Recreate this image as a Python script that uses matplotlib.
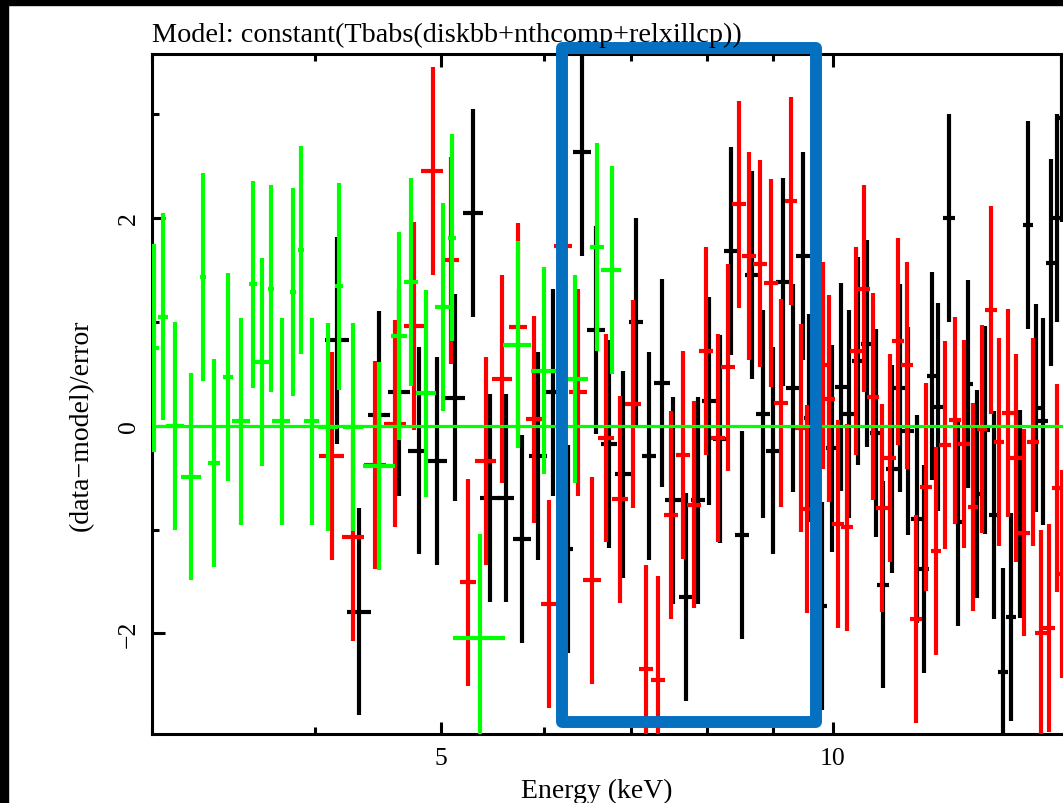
import numpy as np
import matplotlib
matplotlib.use('Agg')
import matplotlib.pyplot as plt
from matplotlib.patches import Rectangle
from matplotlib.ticker import FixedLocator, FixedFormatter, NullFormatter, MultipleLocator

plt.rcParams['font.family'] = ['Liberation Serif', 'DejaVu Serif']

# residuals in units of sigma, so every error bar is +-1
sigma = 1.0

# group 3 (green)
green_e = [3.011, 3.059, 3.123, 3.216, 3.283, 3.348, 3.432, 3.514, 3.584, 3.645,
           3.700, 3.772, 3.851, 3.904, 3.978, 4.094, 4.176, 4.281, 4.480, 4.644,
           4.742, 4.869, 5.015, 5.101, 5.357, 5.726, 5.999, 6.339, 6.587, 6.761]
green_de = [0.027, 0.027, 0.050, 0.057, 0.020, 0.035, 0.030, 0.056, 0.025, 0.045,
            0.020, 0.060, 0.020, 0.020, 0.056, 0.072, 0.030, 0.076, 0.127, 0.066,
            0.059, 0.086, 0.071, 0.036, 0.246, 0.142, 0.138, 0.146, 0.082, 0.120]
green_r = [0.75, 1.05, 0.00, -0.49, 1.43, -0.36, 0.47, 0.04, 1.36, 0.61,
           1.32, 0.04, 1.29, 1.69, 0.04, -0.01, 1.34, -0.01, -0.39, 0.86,
           1.38, 0.31, 1.14, 1.81, -2.04, 0.78, 0.53, 0.45, 1.72, 1.50]

# group 1 (black)
black_e = [4.159, 4.325, 4.482, 4.644, 4.806, 4.967, 5.126, 5.289, 5.452, 5.609,
           5.773, 5.939, 6.098, 6.255, 6.418, 6.576, 6.733, 6.902, 7.059, 7.223,
           7.387, 7.540, 7.708, 7.873, 8.032, 8.190, 8.351, 8.519, 8.671, 8.841,
           8.999, 9.160, 9.323, 9.490, 9.586, 9.809, 9.978, 10.138, 10.293, 10.459,
           10.627, 10.786, 10.932, 11.095, 11.259, 11.426, 11.597, 11.754, 11.908, 12.041,
           12.285, 12.482, 12.691, 12.895, 13.085, 13.302, 13.502, 13.701, 13.921, 14.112,
           14.313, 14.507, 14.706, 14.870, 15.000]
black_de = [0.088, 0.092, 0.087, 0.090, 0.085, 0.088, 0.091, 0.094, 0.096, 0.079,
            0.092, 0.095, 0.086, 0.066, 0.102, 0.105, 0.095, 0.098, 0.087, 0.089,
            0.105, 0.107, 0.095, 0.097, 0.099, 0.101, 0.103, 0.105, 0.107, 0.109,
            0.111, 0.113, 0.115, 0.117, 0.085, 0.087, 0.106, 0.108, 0.109, 0.111,
            0.113, 0.114, 0.116, 0.118, 0.119, 0.121, 0.123, 0.104, 0.105, 0.106,
            0.130, 0.110, 0.112, 0.114, 0.116, 0.118, 0.119, 0.121, 0.123, 0.125,
            0.127, 0.128, 0.130, 0.131, 0.132]
black_r = [0.82, -1.79, 0.10, 0.32, -0.24, -0.34, 0.27, 2.05, -0.70, -0.70,
           -1.09, -0.29, 0.32, -1.19, 2.63, 0.92, -0.18, -0.47, 1.00, -0.29,
           0.41, -0.72, -1.65, -0.72, 0.24, -0.13, 1.68, -1.05, 1.45, 0.11,
           -0.24, 1.38, 0.36, 1.63, 0.07, -1.74, -0.22, 0.37, 0.11, 0.62,
           0.79, -0.07, -1.53, -0.42, 0.36, -0.05, -0.90, -1.38, 0.48, 0.18,
           2.00, -0.93, 0.40, -0.66, -0.04, -0.86, -2.37, -1.84, -0.85, 1.93,
           0.17, 0.04, 1.57, 2.00, 2.96]

# group 2 (red)
red_e = [4.122, 4.281, 4.449, 4.610, 4.770, 4.927, 5.087, 5.247, 5.411, 5.573,
         5.732, 5.898, 6.055, 6.204, 6.373, 6.537, 6.693, 6.861, 7.018, 7.181,
         7.343, 7.506, 7.667, 7.826, 7.990, 8.157, 8.311, 8.474, 8.625, 8.790,
         8.958, 9.118, 9.286, 9.446, 9.557, 9.832, 9.936, 10.085, 10.247, 10.411,
         10.571, 10.729, 10.902, 11.063, 11.215, 11.394, 11.583, 11.790, 11.993, 12.191,
         12.409, 12.615, 12.817, 13.009, 13.218, 13.421, 13.622, 13.823, 14.027, 14.237,
         14.448, 14.654, 14.855, 14.995]
red_de = [0.088, 0.083, 0.087, 0.090, 0.084, 0.096, 0.072, 0.074, 0.096, 0.098,
          0.091, 0.083, 0.086, 0.099, 0.101, 0.104, 0.095, 0.097, 0.099, 0.089,
          0.091, 0.093, 0.095, 0.097, 0.099, 0.101, 0.103, 0.105, 0.107, 0.109,
          0.111, 0.113, 0.099, 0.100, 0.068, 0.087, 0.105, 0.107, 0.109, 0.110,
          0.112, 0.114, 0.116, 0.117, 0.119, 0.121, 0.123, 0.125, 0.106, 0.129,
          0.132, 0.134, 0.113, 0.115, 0.140, 0.119, 0.144, 0.147, 0.149, 0.151,
          0.153, 0.155, 0.131, 0.133]
red_r = [-0.29, -1.07, -0.38, 0.02, 0.96, 2.45, 1.59, -1.51, -0.34, 0.45,
         0.95, 0.06, -1.72, 1.73, 0.32, -1.49, -0.12, -0.71, 0.21, -2.34,
         -2.45, -0.86, -0.28, -0.76, 0.72, -0.12, 0.56, 2.13, 1.63, 1.56,
         1.37, 0.22, 2.16, -0.02, -0.80, 0.58, 0.26, -0.95, -0.98, 0.72,
         1.32, 0.28, -0.79, -0.31, 0.81, 0.58, -1.86, -0.59, -1.21, -0.19,
         0.05, -0.18, -0.78, -0.03, 1.11, -0.16, 0.12, -0.31, -1.03, -0.16,
         -2.00, -1.95, -0.60, -1.43]

title = 'Model: constant(Tbabs(diskbb+nthcomp+relxillcp))'

fig = plt.figure(figsize=(10.63, 8.04), dpi=100)
# axes run on past the right edge of the picture (it is a crop)
ax = fig.add_axes([0.1430, 0.0858, 1.0093, 0.8458])

groups = [(black_e, black_de, black_r, 'black', 2),
          (red_e, red_de, red_r, '#ff0000', 3),
          (green_e, green_de, green_r, '#00ff00', 4)]
for e, de, r, col, z in groups:
    ax.errorbar(e, r, xerr=de, yerr=sigma, fmt='none', ecolor=col,
                elinewidth=3.0, capsize=0, zorder=z)

ax.axhline(0, color='#00ff00', lw=2.3, zorder=6)

ax.set_xscale('log')
ax.set_xlim(3, 20)
ax.set_ylim(-2.969, 3.578)
ax.xaxis.set_major_locator(FixedLocator([5, 10]))
ax.xaxis.set_major_formatter(FixedFormatter(['5', '10']))
ax.xaxis.set_minor_locator(FixedLocator([3, 4, 6, 7, 8, 9]))
ax.xaxis.set_minor_formatter(NullFormatter())
ax.yaxis.set_minor_locator(MultipleLocator(1))
ax.set_yticks([-2, 0, 2])
ax.set_yticklabels(['\u22122', '0', '2'], rotation=90, va='center')

ax.tick_params(which='both', direction='in', top=True, right=True,
               width=2.2, labelsize=18.5, colors='black')
ax.tick_params(which='major', length=9)
ax.tick_params(which='minor', length=5)
ax.tick_params(axis='x', pad=9)
ax.tick_params(axis='y', pad=9)
for s in ax.spines.values():
    s.set_linewidth(2.2)

ax.set_xlabel('Energy (keV)', fontsize=20)
ax.xaxis.set_label_coords(0.4148, -0.065)
ax.set_ylabel('(data\u2212model)/error', fontsize=20)
ax.yaxis.set_label_coords(-0.054, 0.456)

fig.text(0.1430, 0.9478, title, fontsize=20.3, ha='left', va='baseline')

# blue highlight box
box = Rectangle((0.3821, 0.0184), 0.6189 - 0.3821, 1.0088 - 0.0184,
                transform=ax.transAxes, fill=False, ec='#0570c0', lw=8.6,
                joinstyle='round', clip_on=False, zorder=10)
ax.add_patch(box)

# black screenshot frame, left and top
fig.patches.append(Rectangle((0, 0), 0.0075, 1, transform=fig.transFigure,
                             color='black', zorder=20))
fig.patches.append(Rectangle((0, 0.9925), 1, 0.0075, transform=fig.transFigure,
                             color='black', zorder=20))

fig.savefig('out.png', dpi=100)
